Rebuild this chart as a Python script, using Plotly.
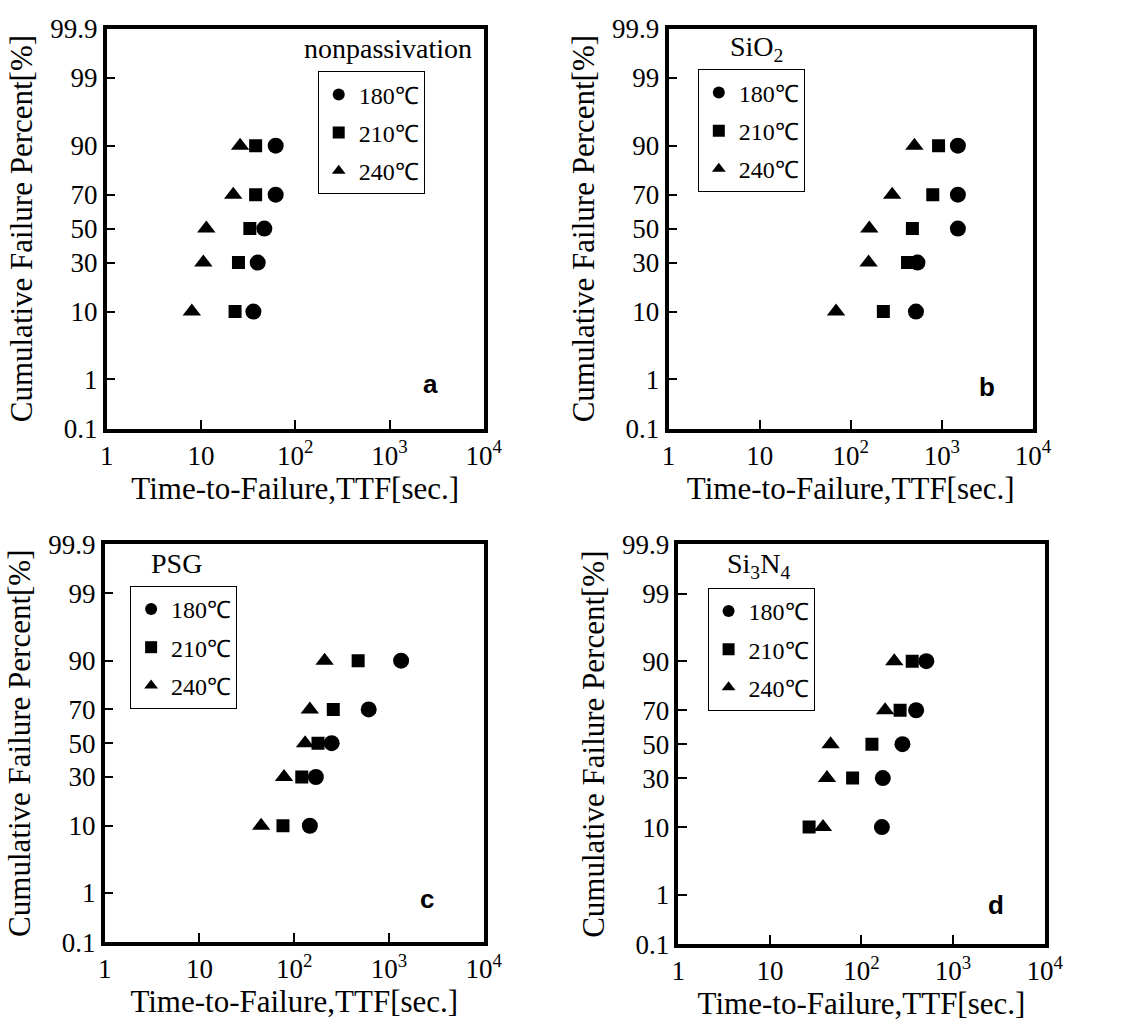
import plotly.graph_objects as go
from statistics import NormalDist

# ---------------- data ----------------
temps = ["180℃", "210℃", "240℃"]
percent = [10, 30, 50, 70, 90]

a_180 = [36, 40, 47, 62, 62]
a_210 = [23, 25, 33, 38, 38]
a_240 = [8.0, 10.6, 11.4, 22, 26]

b_180 = [520, 540, 1500, 1500, 1500]
b_210 = [228, 420, 475, 795, 920]
b_240 = [69, 157, 160, 285, 500]

c_180 = [146, 169, 248, 610, 1340]
c_210 = [76, 120, 178, 258, 472]
c_240 = [44.7, 78, 130, 146, 209]

d_180 = [167, 171, 280, 395, 510]
d_210 = [26.8, 80, 130, 264, 358]
d_240 = [38, 42, 46, 181, 228]

panel_names = ["nonpassivation", "SiO<sub>2</sub>", "PSG", "Si<sub>3</sub>N<sub>4</sub>"]
panel_letters = ["a", "b", "c", "d"]

ytick_percent = [0.1, 1, 10, 30, 50, 70, 90, 99, 99.9]
ytick_text = ["0.1", "1", "10", "30", "50", "70", "90", "99", "99.9"]
xtick_vals = [1, 10, 100, 1000, 10000]
xtick_text = ["1", "10", "10<sup>2</sup>", "10<sup>3</sup>", "10<sup>4</sup>"]

ytitle = "Cumulative Failure Percent[%]"
xtitle = "Time-to-Failure,TTF[sec.]"

# ---------------- scale: normal probability ----------------
nd = NormalDist()
def probit(p):
    return nd.inv_cdf(p / 100.0)

W, H = 1136, 1032
SERIF = "Liberation Serif, Times New Roman, serif"

# frame of each panel in pixels (left, right, top, bottom)
frames = [(102, 488, 14, 426), (677, 1050, 14, 426),
          (100, 488, 545, 955), (687, 1062, 545, 957)]

series = [[a_180, a_210, a_240], [b_180, b_210, b_240],
          [c_180, c_210, c_240], [d_180, d_210, d_240]]
symbols = ["circle", "square", "triangle-up"]
sizes = [16, 13, 16]

fig = go.Figure()
legend_keys = ["legend", "legend2", "legend3", "legend4"]
legend_pos = [(318, 58), (707, 56), (126, 588), (717, 590)]
name_pos = [(478, 35, "right"), (738, 34, "left"), (145, 565, "left"), (735, 567, "left")]
letter_pos = [(433, 380), (1003, 383), (430, 910), (1012, 917)]

layout = dict(
    width=W, height=H,
    margin=dict(l=0, r=0, t=0, b=0),
    paper_bgcolor="white", plot_bgcolor="white",
    font=dict(family=SERIF, color="black", size=27),
    annotations=[],
)

ticks_y = [probit(p) for p in ytick_percent]

for i in range(4):
    xs = "" if i == 0 else str(i + 1)
    l, r, t, b = frames[i]
    for j in range(3):
        fig.add_trace(go.Scatter(
            x=series[i][j], y=[probit(p) for p in percent],
            mode="markers", name=temps[j],
            marker=dict(symbol=symbols[j], size=sizes[j], color="black"),
            xaxis="x" + xs, yaxis="y" + xs,
            legend=legend_keys[i], legendgroup=f"p{i}t{j}",
            showlegend=True,
        ))
    layout["xaxis" + xs] = dict(
        domain=[l / W, r / W], anchor="y" + xs, type="log", range=[0, 4],
        tickvals=xtick_vals, ticktext=xtick_text,
        ticks="inside", ticklen=9, tickwidth=1.5, tickcolor="black",
        showline=True, linewidth=3.5, linecolor="black", mirror=True,
        showgrid=False, zeroline=False,
        tickfont=dict(family=SERIF, size=27),
        title=dict(text=xtitle, font=dict(family=SERIF, size=31), standoff=6),
    )
    layout["yaxis" + xs] = dict(
        domain=[1 - b / H, 1 - t / H], anchor="x" + xs,
        range=[probit(0.1), probit(99.9)],
        tickvals=ticks_y, ticktext=ytick_text,
        ticks="inside", ticklen=9, tickwidth=1.5, tickcolor="black",
        showline=True, linewidth=3.5, linecolor="black", mirror=True,
        showgrid=False, zeroline=False,
        tickfont=dict(family=SERIF, size=27),
        title=dict(text=ytitle, font=dict(family=SERIF, size=31), standoff=9),
    )
    lx, ly = legend_pos[i]
    layout[legend_keys[i]] = dict(
        x=lx / W, y=1 - ly / H, xanchor="left", yanchor="top",
        bordercolor="black", borderwidth=1, bgcolor="white",
        font=dict(family=SERIF, size=24), itemsizing="constant",
        tracegroupgap=4,
    )
    nx, ny, al = name_pos[i]
    layout["annotations"].append(dict(
        text=panel_names[i], x=nx / W, y=1 - ny / H, xref="paper", yref="paper",
        xanchor=al, yanchor="middle", showarrow=False,
        font=dict(family=SERIF, size=28)))
    px_, py_ = letter_pos[i]
    layout["annotations"].append(dict(
        text="<b>" + panel_letters[i] + "</b>", x=px_ / W, y=1 - py_ / H,
        xref="paper", yref="paper", xanchor="center", yanchor="middle",
        showarrow=False, font=dict(family="Liberation Sans, Arial, sans-serif", size=26)))

fig.update_layout(**layout)
fig.write_html("out.html", config={"displayModeBar": False},
               post_script="document.body.style.margin='0';document.body.style.padding='0';")
